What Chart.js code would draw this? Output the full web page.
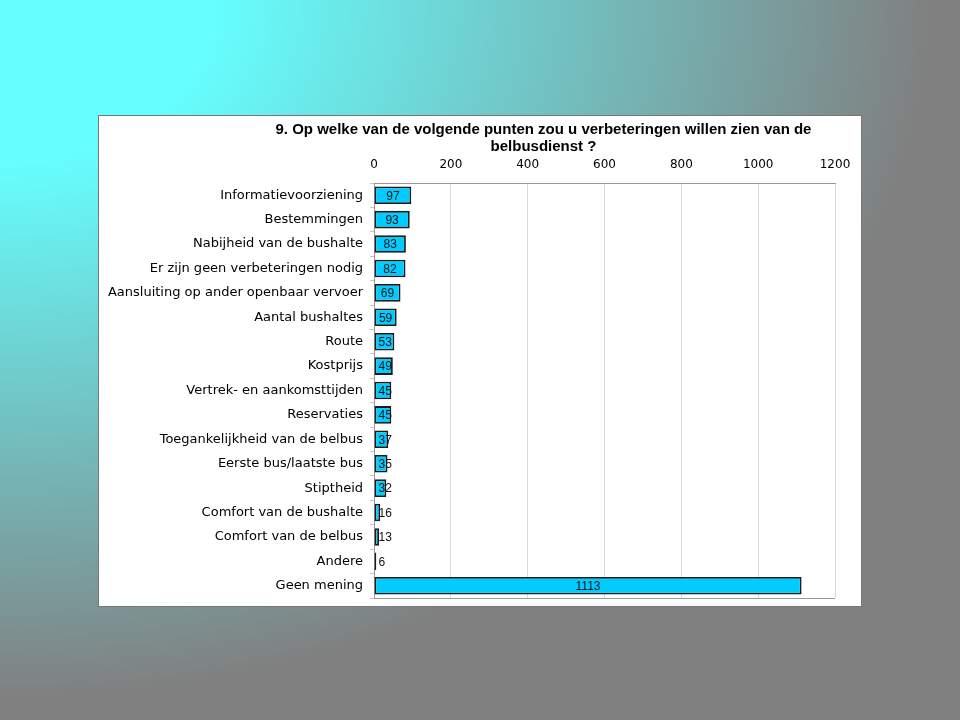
<!DOCTYPE html>
<html>
<head>
<meta charset="utf-8">
<script src="https://cdn.jsdelivr.net/npm/chart.js@4"></script>
<style>
html,body{margin:0;padding:0;width:960px;height:720px;overflow:hidden}
body{background:radial-gradient(ellipse farthest-side at 0 0,#66ffff 22%,#808080 97%)}
#box{position:absolute;left:98px;top:115px;width:762px;height:490px;background:#fff;border:1px solid #777}
#title{position:absolute;left:94px;top:4px;width:701px;text-align:center;font:bold 15px "Liberation Sans",Arial,sans-serif;line-height:17px;color:#000}
#ch{position:absolute;left:0;top:0}
</style>
</head>
<body>
<div id="box">
  <canvas id="ch" width="762" height="490"></canvas>
  <div id="title">9. Op welke van de volgende punten zou u verbeteringen willen zien van de<br>belbusdienst ?</div>
</div>
<script>
// data
const categories=['Informatievoorziening','Bestemmingen','Nabijheid van de bushalte','Er zijn geen verbeteringen nodig',
  'Aansluiting op ander openbaar vervoer','Aantal bushaltes','Route','Kostprijs','Vertrek- en aankomsttijden',
  'Reservaties','Toegankelijkheid van de belbus','Eerste bus/laatste bus','Stiptheid','Comfort van de bushalte',
  'Comfort van de belbus','Andere','Geen mening'];
const counts=[97,93,83,82,69,59,53,49,45,45,37,35,32,16,13,6,1113];
const xMin=0, xMax=1200, xStep=200;

// value labels inside the bars (left-aligned when they don't fit)
const valueLabels={
  id:'valueLabels',
  afterDatasetsDraw(chart){
    const {ctx}=chart;
    const meta=chart.getDatasetMeta(0);
    ctx.save();
    ctx.font='12px "Liberation Sans", Arial, sans-serif';
    ctx.fillStyle='#111';
    ctx.textAlign='center'; ctx.textBaseline='middle';
    meta.data.forEach((bar,i)=>{
      const txt=String(counts[i]);
      const w=ctx.measureText(txt).width;
      const x=Math.max((bar.x+bar.base)/2, bar.base+4+w/2);
      ctx.fillText(txt,x,bar.y+1);
    });
    ctx.restore();
  }
};

// bottom edge of the plot frame
const frameBottom={
  id:'frameBottom',
  afterDraw(chart){
    const {ctx,chartArea:a}=chart;
    ctx.save();
    ctx.strokeStyle='#999'; ctx.lineWidth=1;
    ctx.beginPath(); ctx.moveTo(a.left,Math.round(a.bottom)+0.5); ctx.lineTo(a.right,Math.round(a.bottom)+0.5); ctx.stroke();
    ctx.restore();
  }
};

new Chart(document.getElementById('ch'),{
  type:'bar',
  data:{
    labels:categories,
    datasets:[{
      data:counts,
      backgroundColor:'#00ccff',
      borderColor:'#1b1b1b',
      borderWidth:1.8,
      borderSkipped:false,
      barPercentage:0.72,
      categoryPercentage:1
    }]
  },
  options:{
    indexAxis:'y',
    responsive:false,
    animation:false,
    layout:{padding:{top:39,left:0,right:26,bottom:8}},
    plugins:{legend:{display:false},tooltip:{enabled:false}},
    scales:{
      x:{
        position:'top',min:xMin,max:xMax,
        afterFit:s=>{s.height=28;s.paddingLeft=0;s.paddingRight=0;},
        ticks:{stepSize:xStep,padding:11,color:'#000',font:{family:'"DejaVu Sans"',size:12},callback:v=>String(v)},
        grid:{color:'#d9d9d9',drawTicks:false},
        border:{color:'#999'}
      },
      y:{
        afterFit:s=>{s.width=275;s.paddingTop=0;s.paddingBottom=0;},
        ticks:{padding:7,color:'#000',font:{family:'"DejaVu Sans"',size:13}},
        grid:{offset:true,drawOnChartArea:false,tickLength:4,color:'#c8c8b0'},
        border:{color:'#999'}
      }
    }
  },
  plugins:[valueLabels,frameBottom]
});
</script>
</body>
</html>
